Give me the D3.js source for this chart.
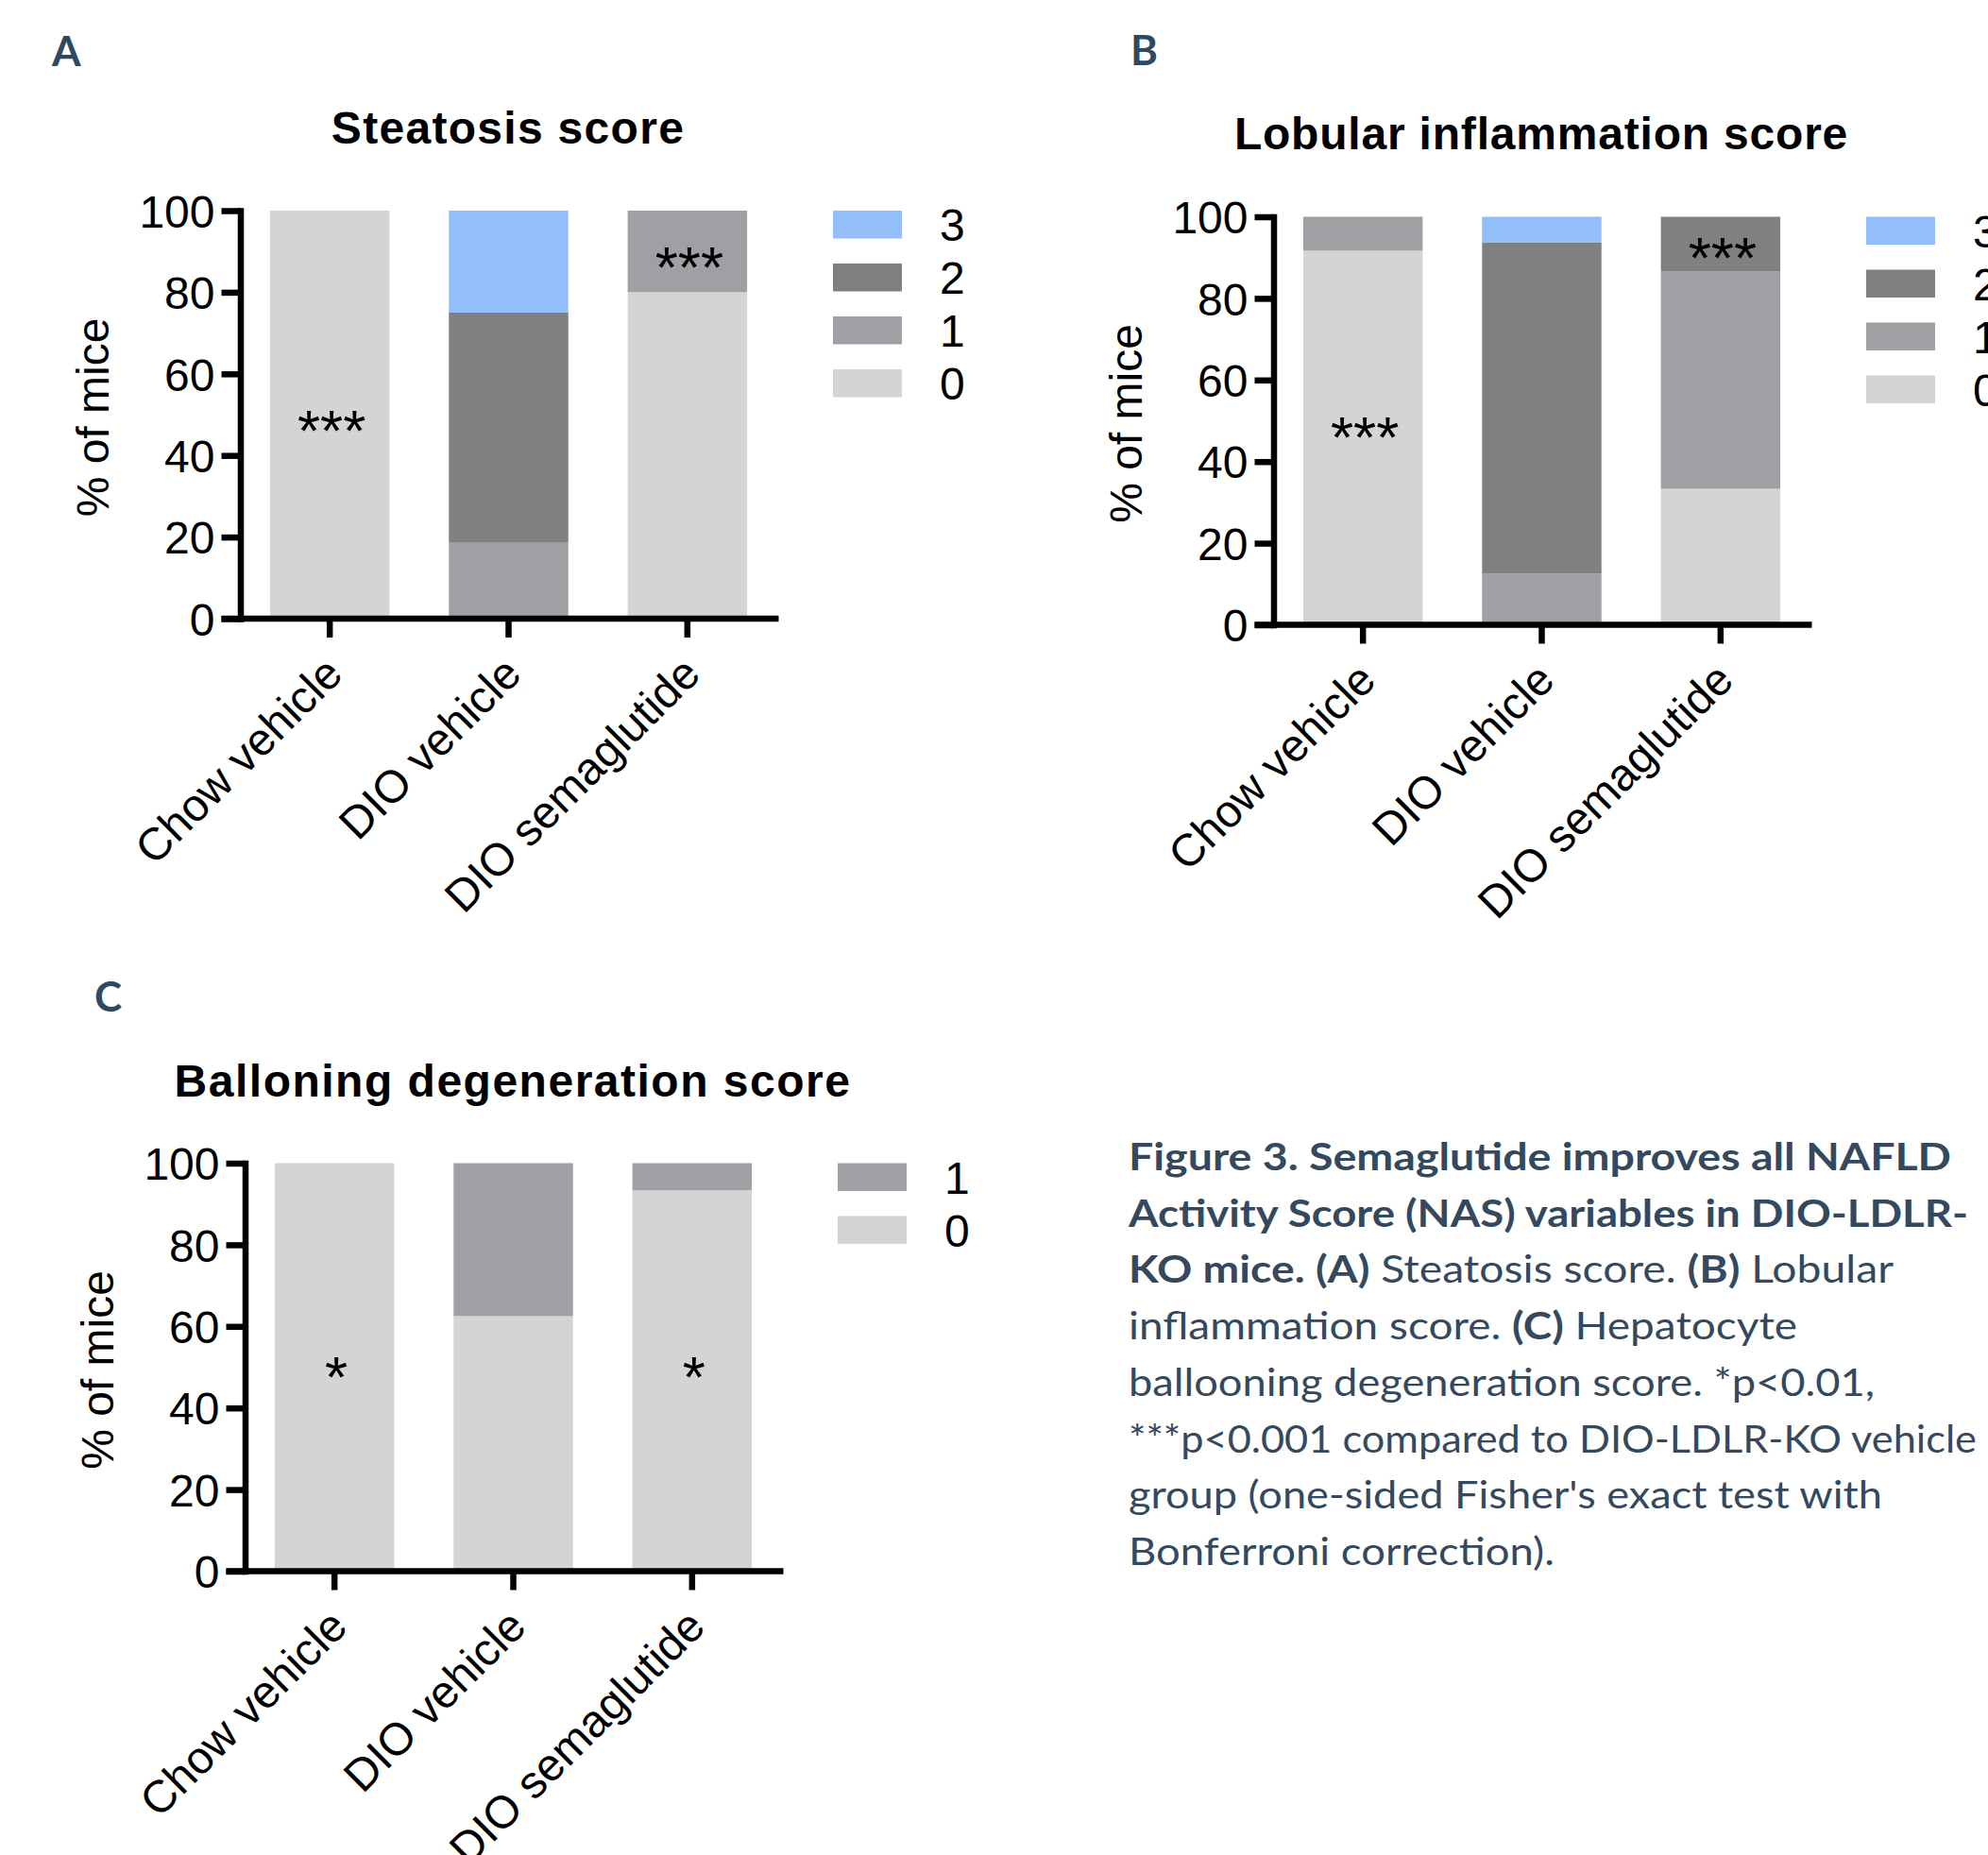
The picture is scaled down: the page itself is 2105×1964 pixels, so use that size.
<!DOCTYPE html>
<html><head><meta charset="utf-8">
<script src="https://cdn.jsdelivr.net/npm/d3@7"></script>
<style>body{margin:0;background:#fff} svg{display:block}</style>
</head><body><svg id="fig" width="2105" height="1964"></svg>
<script>
// ---------- DATA ----------
const categories = ["Chow vehicle", "DIO vehicle", "DIO semaglutide"];
const yTicks = [0, 20, 40, 60, 80, 100];

// A: Steatosis score (% of mice per score)
const steatosisKeys = ["0", "1", "2", "3"];
const steatosisScore0 = [100, 0, 80];
const steatosisScore1 = [0, 18.75, 20];
const steatosisScore2 = [0, 56.25, 0];
const steatosisScore3 = [0, 25, 0];
const steatosisStars = ["***", "", "***"];
const steatosisStarAt = [48, null, 88];

// B: Lobular inflammation score
const inflammationKeys = ["0", "1", "2", "3"];
const inflammationScore0 = [91.67, 0, 33.33];
const inflammationScore1 = [8.33, 12.5, 53.34];
const inflammationScore2 = [0, 81.25, 13.33];
const inflammationScore3 = [0, 6.25, 0];
const inflammationStars = ["***", "", "***"];
const inflammationStarAt = [48, null, 92];

// C: Ballooning degeneration score
const ballooningKeys = ["0", "1"];
const ballooningScore0 = [100, 62.5, 93.33];
const ballooningScore1 = [0, 37.5, 6.67];
const ballooningStars = ["*", "", "*"];
const ballooningStarAt = [49.6, null, 49.6];

const scoreColors = {"0": "#d4d4d4", "1": "#a09fa4", "2": "#808080", "3": "#92bff9"};

const captionLines = [
  [["Figure 3. Semaglutide improves all NAFLD", true]],
  [["Activity Score (NAS) variables in DIO-LDLR-", true]],
  [["KO mice. (A)", true], [" Steatosis score. ", false], ["(B)", true], [" Lobular", false]],
  [["inflammation score. ", false], ["(C)", true], [" Hepatocyte", false]],
  [["ballooning degeneration score. *p<0.01,", false]],
  [["***p<0.001 compared to DIO-LDLR-KO vehicle", false]],
  [["group (one-sided Fisher's exact test with", false]],
  [["Bonferroni correction).", false]]
];
const captionWidths = [871, 889, 810, 708, 790, 898, 798, 451];

// ---------- DRAW ----------
const svg = d3.select("#fig");
svg.append("rect").attr("width", 2105).attr("height", 1964).attr("fill", "#fff");
const FONT = "'Liberation Sans', Arial, Helvetica, sans-serif";
const FS = 48;

const panels = [
  {letter: "A", title: "Steatosis score", keys: steatosisKeys,
   series: [steatosisScore0, steatosisScore1, steatosisScore2, steatosisScore3],
   stars: steatosisStars, starAt: steatosisStarAt, titleSpacing: 1.3,
   dx: 0, dy: 0, letterX: 55, letterY: 70},
  {letter: "B", title: "Lobular inflammation score", keys: inflammationKeys,
   series: [inflammationScore0, inflammationScore1, inflammationScore2, inflammationScore3],
   stars: inflammationStars, starAt: inflammationStarAt, titleSpacing: 0.8,
   dx: 1094, dy: 6.5, letterX: 1197, letterY: 69},
  {letter: "C", title: "Balloning degeneration score", keys: ballooningKeys,
   series: [ballooningScore0, ballooningScore1],
   stars: ballooningStars, starAt: ballooningStarAt, titleSpacing: 1.5,
   dx: 5, dy: 1008.5, letterX: 100, letterY: 1071}
];

const base = {axisX: 254.5, yTop: 223, yBottom: 655, width: 568, titleX: 538, titleY: 152,
  ylabX: 115, legendX: 882, legendW: 73, legendH: 29.5, legendStep: 56, legendLabelX: 995};

panels.forEach(p => {
  const L = {
    axisX: base.axisX + p.dx, yTop: base.yTop + p.dy, yBottom: base.yBottom + p.dy
  };
  const g = svg.append("g");
  const y = d3.scaleLinear().domain([0, 100]).range([L.yBottom, L.yTop]);
  const x = d3.scaleBand().domain(categories).range([L.axisX, L.axisX + base.width])
    .paddingInner(0.332).paddingOuter(0.166);

  const rows = categories.map((c, i) => {
    const r = {cat: c};
    p.keys.forEach((k, j) => r[k] = p.series[j][i]);
    return r;
  });
  const stacked = d3.stack().keys(p.keys)(rows);

  g.append("g").selectAll("g").data(stacked).join("g")
    .attr("fill", d => scoreColors[d.key])
    .selectAll("rect").data(d => d).join("rect")
    .attr("x", d => x(d.data.cat))
    .attr("width", x.bandwidth())
    .attr("y", d => y(d[1]))
    .attr("height", d => Math.max(0, y(d[0]) - y(d[1])));

  // stars
  const SF = 62;
  g.append("g").selectAll("text").data(categories.map((c, i) => ({c, s: p.stars[i], v: p.starAt[i]})).filter(d => d.s))
    .join("text")
    .attr("x", d => x(d.c) + x.bandwidth() / 2 + 2)
    .attr("y", d => y(d.v) + 0.575 * SF - 6)
    .attr("text-anchor", "middle")
    .attr("font-family", FONT).attr("font-size", SF).attr("fill", "#000")
    .text(d => d.s);

  // y axis
  const ya = g.append("g").attr("transform", `translate(${L.axisX},0)`)
    .call(d3.axisLeft(y).tickValues(yTicks).tickSize(20).tickSizeOuter(0).tickPadding(7));
  ya.attr("font-family", FONT).attr("font-size", FS);
  ya.select(".domain").attr("stroke-width", 6.5).attr("stroke-linecap", "square").attr("stroke", "#000");
  ya.selectAll(".tick line").attr("stroke-width", 6.5).attr("stroke", "#000");
  ya.selectAll(".tick text").attr("fill", "#000").attr("dy", "0.36em");

  // x axis
  const xa = g.append("g").attr("transform", `translate(0,${L.yBottom})`)
    .call(d3.axisBottom(x).tickSize(20).tickSizeOuter(0));
  xa.select(".domain").remove();
  xa.attr("font-family", FONT).attr("font-size", FS);
  xa.selectAll(".tick line").attr("stroke-width", 6.5).attr("stroke", "#000");
  xa.selectAll(".tick text").attr("fill", "#000").attr("y", 0).attr("dy", 0)
    .attr("text-anchor", "end").attr("transform", "translate(16,61) rotate(-45)");
  g.append("line").attr("x1", L.axisX - 20).attr("x2", L.axisX + base.width + 2)
    .attr("y1", L.yBottom).attr("y2", L.yBottom).attr("stroke", "#000").attr("stroke-width", 6.5);

  // title
  g.append("text").attr("x", base.titleX + p.dx).attr("y", base.titleY + p.dy - (p.letter === "B" ? 1 : 0))
    .attr("text-anchor", "middle").attr("font-family", FONT).attr("font-weight", "bold")
    .attr("font-size", 48).attr("letter-spacing", p.titleSpacing).attr("fill", "#000").text(p.title);

  // y label
  g.append("text").attr("transform", `translate(${base.ylabX + p.dx},${(L.yTop + L.yBottom) / 2 + 3}) rotate(-90)`)
    .attr("text-anchor", "middle").attr("font-family", FONT).attr("font-size", FS).attr("fill", "#000")
    .text("% of mice");

  // legend
  const leg = g.append("g");
  const legKeys = p.keys.slice().reverse();
  legKeys.forEach((k, i) => {
    const top = L.yTop + i * base.legendStep;
    leg.append("rect").attr("x", base.legendX + p.dx).attr("y", top)
      .attr("width", base.legendW).attr("height", base.legendH).attr("fill", scoreColors[k]);
    leg.append("text").attr("x", base.legendLabelX + p.dx).attr("y", top + base.legendH / 2)
      .attr("dy", "0.36em").attr("font-family", FONT).attr("font-size", FS).attr("fill", "#000").text(k);
  });

  // panel letter
  svg.append("text").attr("x", p.letterX).attr("y", p.letterY)
    .attr("font-family", "Lato, 'Open Sans', sans-serif").attr("font-weight", "bold")
    .attr("font-size", 44).attr("fill", "#2e4a62").text(p.letter);
});

// caption
const cap = svg.append("g").attr("font-family", "Lato, 'Open Sans', sans-serif").attr("font-size", 40).attr("fill", "#34495e");
captionLines.forEach((segs, i) => {
  const t = cap.append("text").attr("x", 1195).attr("y", 1239 + i * 59.7)
    .attr("textLength", captionWidths[i]).attr("lengthAdjust", "spacingAndGlyphs");
  segs.forEach(([s, b]) => t.append("tspan").attr("font-weight", b ? "bold" : "normal").text(s));
});
</script>
</body></html>
